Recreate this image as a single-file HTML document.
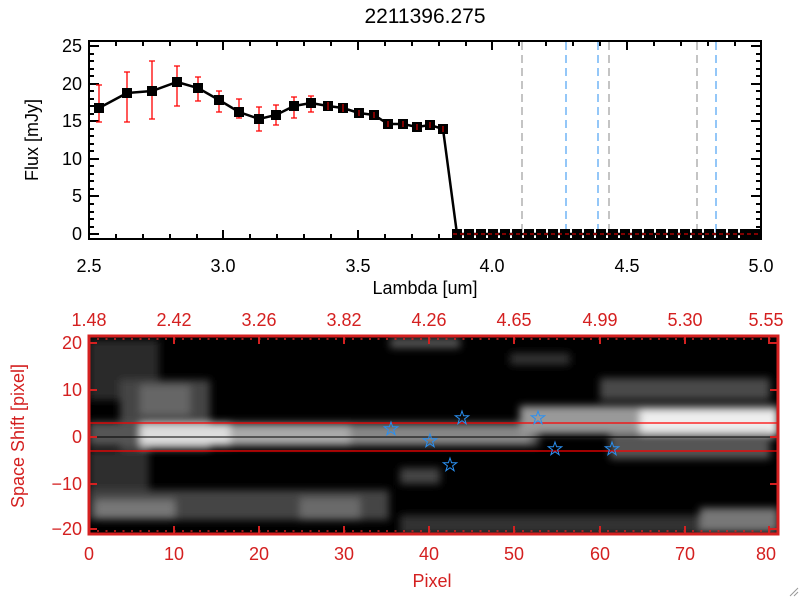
<!DOCTYPE html>
<html><head><meta charset="utf-8"><style>
body{margin:0;background:#fff}
svg text{font-family:"Liberation Sans",sans-serif}
</style></head><body>
<svg width="800" height="600" xmlns="http://www.w3.org/2000/svg">
<rect width="800" height="600" fill="#fff"/>
<text x="425" y="23" font-size="21" text-anchor="middle">2211396.275</text>
<g stroke-dasharray="8,5" stroke-width="1">
<line x1="522" y1="42" x2="522" y2="239" stroke="#888"/>
<line x1="609" y1="42" x2="609" y2="239" stroke="#888"/>
<line x1="697" y1="42" x2="697" y2="239" stroke="#888"/>
<line x1="566" y1="42" x2="566" y2="239" stroke="#2a8ff0"/>
<line x1="598" y1="42" x2="598" y2="239" stroke="#2a8ff0"/>
<line x1="716" y1="42" x2="716" y2="239" stroke="#2a8ff0"/>
</g>
<rect x="89" y="41" width="672" height="198" fill="none" stroke="#000" stroke-width="2"/>
<g stroke="#000" stroke-width="2">
<path d="M89,234h10M89,196h10M89,159h10M89,121h10M89,84h10M89,46h10M761,234h-10M761,196h-10M761,159h-10M761,121h-10M761,84h-10M761,46h-10"/>
<path d="M89,227h5M89,219h5M89,212h5M89,204h5M89,189h5M89,181h5M89,174h5M89,166h5M89,151h5M89,144h5M89,136h5M89,129h5M89,114h5M89,106h5M89,99h5M89,91h5M89,76h5M89,69h5M89,61h5M89,54h5"/>
<path d="M761,227h-5M761,219h-5M761,212h-5M761,204h-5M761,189h-5M761,181h-5M761,174h-5M761,166h-5M761,151h-5M761,144h-5M761,136h-5M761,129h-5M761,114h-5M761,106h-5M761,99h-5M761,91h-5M761,76h-5M761,69h-5M761,61h-5M761,54h-5"/>
<path d="M223,239v-9M358,239v-9M492,239v-9M627,239v-9M223,41v9M358,41v9M492,41v9M627,41v9"/>
<path d="M116,239v-5M143,239v-5M170,239v-5M197,239v-5M250,239v-5M277,239v-5M304,239v-5M331,239v-5M385,239v-5M412,239v-5M439,239v-5M466,239v-5M519,239v-5M546,239v-5M573,239v-5M600,239v-5M654,239v-5M681,239v-5M708,239v-5M735,239v-5"/>
<path d="M116,41v5M143,41v5M170,41v5M197,41v5M250,41v5M277,41v5M304,41v5M331,41v5M385,41v5M412,41v5M439,41v5M466,41v5M519,41v5M546,41v5M573,41v5M600,41v5M654,41v5M681,41v5M708,41v5M735,41v5"/>
</g>
<g font-size="18" text-anchor="end">
<text x="82" y="240">0</text><text x="82" y="202">5</text><text x="82" y="165">10</text><text x="82" y="127">15</text><text x="82" y="90">20</text><text x="82" y="52">25</text>
</g>
<g font-size="18" text-anchor="middle">
<text x="89" y="272">2.5</text><text x="223" y="272">3.0</text><text x="358" y="272">3.5</text><text x="492" y="272">4.0</text><text x="627" y="272">4.5</text><text x="761" y="272">5.0</text>
<text x="425" y="294">Lambda [um]</text>
</g>
<text transform="translate(38,140) rotate(-90)" font-size="18" text-anchor="middle">Flux [mJy]</text>
<g stroke="red" stroke-width="1.3" fill="none">
<path d="M99,85v37M96,85h6M96,122h6"/>
<path d="M127,72v50M124,72h6M124,122h6"/>
<path d="M152,61v58M149,61h6M149,119h6"/>
<path d="M177,66v40M174,66h6M174,106h6"/>
<path d="M198,77v24M195,77h6M195,101h6"/>
<path d="M219,91v21M216,91h6M216,112h6"/>
<path d="M239,99v19M236,99h6M236,118h6"/>
<path d="M259,107v24M256,107h6M256,131h6"/>
<path d="M276,105v20M273,105h6M273,125h6"/>
<path d="M294,97v21M291,97h6M291,118h6"/>
<path d="M311,96v16M308,96h6M308,112h6"/>
</g>
<polyline fill="none" stroke="#000" stroke-width="2.5" points="99,108 127,93 152,91 177,82 198,88 219,100 239,112 259,119 276,115 294,106 311,103 328,106 343,108 359,113 374,115 388,124 403,124 417,127 430,125 443,129 457,234 761,234"/>
<g fill="#000">
<rect x="94" y="103" width="10" height="10"/><rect x="122" y="88" width="10" height="10"/><rect x="147" y="86" width="10" height="10"/><rect x="172" y="77" width="10" height="10"/><rect x="193" y="83" width="10" height="10"/><rect x="214" y="95" width="10" height="10"/><rect x="234" y="107" width="10" height="10"/><rect x="254" y="114" width="10" height="10"/><rect x="271" y="110" width="10" height="10"/><rect x="289" y="101" width="10" height="10"/><rect x="306" y="98" width="10" height="10"/><rect x="323" y="101" width="10" height="10"/><rect x="338" y="103" width="10" height="10"/><rect x="354" y="108" width="10" height="10"/><rect x="369" y="110" width="10" height="10"/><rect x="383" y="119" width="10" height="10"/><rect x="398" y="119" width="10" height="10"/><rect x="412" y="122" width="10" height="10"/><rect x="425" y="120" width="10" height="10"/><rect x="438" y="124" width="10" height="10"/>
</g>
<g fill="#000">
<rect x="452" y="229" width="10" height="10"/><rect x="464" y="229" width="10" height="10"/><rect x="476" y="229" width="10" height="10"/><rect x="488" y="229" width="10" height="10"/><rect x="500" y="229" width="10" height="10"/><rect x="512" y="229" width="10" height="10"/><rect x="524" y="229" width="10" height="10"/><rect x="536" y="229" width="10" height="10"/><rect x="548" y="229" width="10" height="10"/><rect x="560" y="229" width="10" height="10"/><rect x="572" y="229" width="10" height="10"/><rect x="584" y="229" width="10" height="10"/><rect x="596" y="229" width="10" height="10"/><rect x="608" y="229" width="10" height="10"/><rect x="620" y="229" width="10" height="10"/><rect x="632" y="229" width="10" height="10"/><rect x="644" y="229" width="10" height="10"/><rect x="656" y="229" width="10" height="10"/><rect x="668" y="229" width="10" height="10"/><rect x="680" y="229" width="10" height="10"/><rect x="692" y="229" width="10" height="10"/><rect x="704" y="229" width="10" height="10"/><rect x="716" y="229" width="10" height="10"/><rect x="728" y="229" width="10" height="10"/><rect x="740" y="229" width="10" height="10"/><rect x="750" y="229" width="10" height="10"/>
</g>
<line x1="453" y1="234" x2="761" y2="234" stroke="red" stroke-dasharray="4,3" stroke-width="1"/>
<g stroke="red" stroke-width="1"><path d="M328,102v8M343,104v8M359,110v6M374,112v6M388,121v6M403,121v6M417,124v6M430,122v6M443,126v6"/></g>

<defs>
<filter id="bl" filterUnits="userSpaceOnUse" x="60" y="310" width="760" height="260"><feGaussianBlur stdDeviation="4"/></filter>
<clipPath id="cb"><rect x="89" y="336" width="689" height="198"/></clipPath>
</defs>
<rect x="89" y="336" width="689" height="198" fill="#000"/>
<g clip-path="url(#cb)">
<g filter="url(#bl)">
<rect x="89" y="340" width="70" height="60" fill="#2a2a2a"/>
<rect x="120" y="380" width="90" height="70" fill="#444"/>
<rect x="140" y="385" width="50" height="30" fill="#666"/>
<rect x="89" y="450" width="60" height="45" fill="#2e2e2e"/>
<rect x="89" y="490" width="300" height="30" fill="#444"/>
<rect x="95" y="500" width="80" height="18" fill="#777"/>
<rect x="300" y="498" width="60" height="22" fill="#6a6a6a"/>
<rect x="89" y="422" width="450" height="24" fill="#555"/>
<rect x="140" y="424" width="90" height="22" fill="#ddd"/>
<rect x="230" y="426" width="120" height="19" fill="#aaa"/>
<rect x="350" y="427" width="180" height="17" fill="#888"/>
<rect x="520" y="406" width="258" height="28" fill="#999"/>
<rect x="640" y="410" width="138" height="26" fill="#eee"/>
<rect x="600" y="378" width="170" height="22" fill="#4a4a4a"/>
<rect x="610" y="433" width="160" height="26" fill="#555"/>
<rect x="400" y="515" width="300" height="20" fill="#333"/>
<rect x="700" y="508" width="78" height="24" fill="#777"/>
<rect x="390" y="338" width="70" height="10" fill="#555"/>
<rect x="510" y="353" width="60" height="12" fill="#333"/>
<rect x="400" y="468" width="40" height="16" fill="#444"/>
</g>
</g>
<line x1="89" y1="423" x2="778" y2="423" stroke="red" stroke-width="1.2"/>
<line x1="89" y1="437" x2="778" y2="437" stroke="#000" stroke-width="1"/>
<line x1="89" y1="451" x2="778" y2="451" stroke="red" stroke-width="1.2"/>
<g fill="none" stroke="#2a8ff0" stroke-width="1">
<path d="M0,-7L1.6,-2.2L6.7,-2.2L2.6,0.8L4.1,5.7L0,2.7L-4.1,5.7L-2.6,0.8L-6.7,-2.2L-1.6,-2.2Z" transform="translate(391,429)"/>
<path d="M0,-7L1.6,-2.2L6.7,-2.2L2.6,0.8L4.1,5.7L0,2.7L-4.1,5.7L-2.6,0.8L-6.7,-2.2L-1.6,-2.2Z" transform="translate(462,418)"/>
<path d="M0,-7L1.6,-2.2L6.7,-2.2L2.6,0.8L4.1,5.7L0,2.7L-4.1,5.7L-2.6,0.8L-6.7,-2.2L-1.6,-2.2Z" transform="translate(430,441)"/>
<path d="M0,-7L1.6,-2.2L6.7,-2.2L2.6,0.8L4.1,5.7L0,2.7L-4.1,5.7L-2.6,0.8L-6.7,-2.2L-1.6,-2.2Z" transform="translate(450,465)"/>
<path d="M0,-7L1.6,-2.2L6.7,-2.2L2.6,0.8L4.1,5.7L0,2.7L-4.1,5.7L-2.6,0.8L-6.7,-2.2L-1.6,-2.2Z" transform="translate(538,418)"/>
<path d="M0,-7L1.6,-2.2L6.7,-2.2L2.6,0.8L4.1,5.7L0,2.7L-4.1,5.7L-2.6,0.8L-6.7,-2.2L-1.6,-2.2Z" transform="translate(555,449)"/>
<path d="M0,-7L1.6,-2.2L6.7,-2.2L2.6,0.8L4.1,5.7L0,2.7L-4.1,5.7L-2.6,0.8L-6.7,-2.2L-1.6,-2.2Z" transform="translate(612,449)"/>
</g>
<rect x="89" y="336" width="689" height="198" fill="none" stroke="#d42020" stroke-width="3"/>
<g stroke="#d42020" stroke-width="2">
<path d="M89,343h8M89,390h8M89,437h8M89,484h8M89,529h8M778,343h-8M778,390h-8M778,437h-8M778,484h-8M778,529h-8"/>
<path d="M174,534v-8M259,534v-8M344,534v-8M429,534v-8M514,534v-8M600,534v-8M685,534v-8M769,534v-8M174,336v8M259,336v8M344,336v8M429,336v8M514,336v8M600,336v8M685,336v8M769,336v8"/>
</g>
<g stroke="#d42020" stroke-width="1.5" stroke-dasharray="2,6.5">
<line x1="97" y1="531" x2="778" y2="531"/><line x1="97" y1="339" x2="778" y2="339"/>
</g>
<g fill="#d42020" font-size="18" text-anchor="middle">
<text x="89" y="560">0</text><text x="174" y="560">10</text><text x="259" y="560">20</text><text x="344" y="560">30</text><text x="429" y="560">40</text><text x="514" y="560">50</text><text x="600" y="560">60</text><text x="685" y="560">70</text><text x="766" y="560">80</text>
<text x="432" y="587">Pixel</text>
<text x="89" y="326">1.48</text><text x="174" y="326">2.42</text><text x="259" y="326">3.26</text><text x="344" y="326">3.82</text><text x="429" y="326">4.26</text><text x="514" y="326">4.65</text><text x="600" y="326">4.99</text><text x="685" y="326">5.30</text><text x="766" y="326">5.55</text>
</g>
<g fill="#d42020" font-size="18" text-anchor="end">
<text x="82" y="349">20</text><text x="82" y="396">10</text><text x="82" y="443">0</text><text x="82" y="490">−10</text><text x="82" y="535">−20</text>
</g>
<text transform="translate(24,436) rotate(-90)" fill="#d42020" font-size="18" text-anchor="middle">Space Shift [pixel]</text>
<g stroke="#999" stroke-width="1"><path d="M790,596l8,-8M794,596l4,-4"/></g>
</svg>
</body></html>
